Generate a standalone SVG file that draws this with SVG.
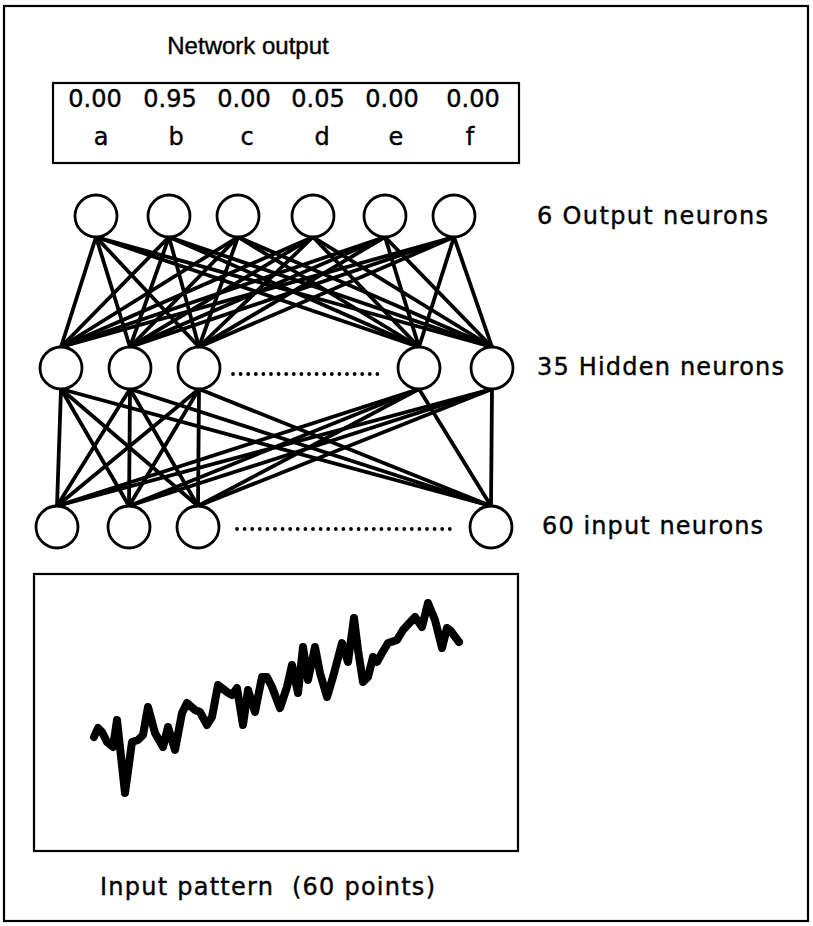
<svg xmlns="http://www.w3.org/2000/svg" width="813" height="926" viewBox="0 0 813 926">
<style>
text{font-family:"DejaVu Sans","Liberation Sans",sans-serif;fill:#000;stroke:#000;stroke-width:0.4;font-size:24px}
.n{fill:#fff;stroke:#000;stroke-width:2.8}
.c line{stroke:#000;stroke-width:3.8;stroke-linecap:round}
.dots{stroke:#000;stroke-width:3.8;stroke-linecap:round;stroke-dasharray:0 7.6;fill:none}
.box{fill:none;stroke:#000;stroke-width:2.2}
</style>
<rect x="0" y="0" width="813" height="926" fill="#fff"/>
<rect id="frame" class="box" x="4" y="6" width="804" height="915" stroke-width="1.6"/>
<text id="title" x="248" y="54" font-size="22" text-anchor="middle" style="font-family:'Liberation Sans',Arial,sans-serif">Network output</text>
<g id="output-box">
<rect class="box" x="53" y="83" width="466" height="80"/>
<g text-anchor="middle" font-size="20">
<text x="95" y="107">0.00</text>
<text x="170" y="107">0.95</text>
<text x="244" y="107">0.00</text>
<text x="318" y="107">0.05</text>
<text x="392" y="107">0.00</text>
<text x="473" y="107">0.00</text>
</g>
<g text-anchor="middle" font-size="22">
<text x="101" y="145">a</text>
<text x="176" y="145">b</text>
<text x="247" y="145">c</text>
<text x="322" y="145">d</text>
<text x="396" y="145">e</text>
<text x="470" y="145">f</text>
</g>
</g>
<g id="connectors" class="c">
<line x1="96" y1="237" x2="61" y2="347"/><line x1="96" y1="237" x2="130" y2="347"/><line x1="96" y1="237" x2="199" y2="347"/><line x1="96" y1="237" x2="419" y2="347"/><line x1="96" y1="237" x2="492" y2="347"/>
<line x1="169" y1="237" x2="61" y2="347"/><line x1="169" y1="237" x2="130" y2="347"/><line x1="169" y1="237" x2="199" y2="347"/><line x1="169" y1="237" x2="419" y2="347"/><line x1="169" y1="237" x2="492" y2="347"/>
<line x1="238" y1="237" x2="61" y2="347"/><line x1="238" y1="237" x2="130" y2="347"/><line x1="238" y1="237" x2="199" y2="347"/><line x1="238" y1="237" x2="419" y2="347"/><line x1="238" y1="237" x2="492" y2="347"/>
<line x1="313" y1="237" x2="61" y2="347"/><line x1="313" y1="237" x2="130" y2="347"/><line x1="313" y1="237" x2="199" y2="347"/><line x1="313" y1="237" x2="419" y2="347"/><line x1="313" y1="237" x2="492" y2="347"/>
<line x1="385" y1="237" x2="61" y2="347"/><line x1="385" y1="237" x2="130" y2="347"/><line x1="385" y1="237" x2="199" y2="347"/><line x1="385" y1="237" x2="419" y2="347"/><line x1="385" y1="237" x2="492" y2="347"/>
<line x1="454" y1="237" x2="61" y2="347"/><line x1="454" y1="237" x2="130" y2="347"/><line x1="454" y1="237" x2="199" y2="347"/><line x1="454" y1="237" x2="419" y2="347"/><line x1="454" y1="237" x2="492" y2="347"/>
<line x1="61" y1="389" x2="57" y2="506"/><line x1="61" y1="389" x2="129" y2="506"/><line x1="61" y1="389" x2="198" y2="506"/><line x1="61" y1="389" x2="491" y2="506"/>
<line x1="130" y1="389" x2="57" y2="506"/><line x1="130" y1="389" x2="129" y2="506"/><line x1="130" y1="389" x2="198" y2="506"/><line x1="130" y1="389" x2="491" y2="506"/>
<line x1="199" y1="389" x2="57" y2="506"/><line x1="199" y1="389" x2="129" y2="506"/><line x1="199" y1="389" x2="198" y2="506"/><line x1="199" y1="389" x2="491" y2="506"/>
<line x1="419" y1="389" x2="57" y2="506"/><line x1="419" y1="389" x2="129" y2="506"/><line x1="419" y1="389" x2="198" y2="506"/><line x1="419" y1="389" x2="491" y2="506"/>
<line x1="492" y1="389" x2="57" y2="506"/><line x1="492" y1="389" x2="129" y2="506"/><line x1="492" y1="389" x2="198" y2="506"/><line x1="492" y1="389" x2="491" y2="506"/>
</g>
<g id="output-neurons">
<circle class="n" cx="96" cy="216" r="21"/>
<circle class="n" cx="169" cy="216" r="21"/>
<circle class="n" cx="238" cy="216" r="21"/>
<circle class="n" cx="313" cy="216" r="21"/>
<circle class="n" cx="385" cy="216" r="21"/>
<circle class="n" cx="454" cy="216" r="21"/>
<text x="537" y="224" textLength="231" lengthAdjust="spacing">6 Output neurons</text>
</g>
<g id="hidden-neurons">
<circle class="n" cx="61" cy="368" r="21"/>
<circle class="n" cx="130" cy="368" r="21"/>
<circle class="n" cx="199" cy="368" r="21"/>
<circle class="n" cx="419" cy="368" r="21"/>
<circle class="n" cx="492" cy="368" r="21"/>
<line class="dots" x1="233" y1="374" x2="378" y2="374"/>
<text x="537" y="375" textLength="247" lengthAdjust="spacing">35 Hidden neurons</text>
</g>
<g id="input-neurons">
<circle class="n" cx="57" cy="527" r="21"/>
<circle class="n" cx="129" cy="527" r="21"/>
<circle class="n" cx="198" cy="527" r="21"/>
<circle class="n" cx="491" cy="527" r="21"/>
<line class="dots" x1="237" y1="529" x2="450" y2="529"/>
<text x="542" y="534" textLength="221" lengthAdjust="spacing">60 input neurons</text>
</g>
<g id="input-pattern">
<rect class="box" x="34" y="574" width="484" height="277"/>
<polyline fill="none" stroke="#000" stroke-width="8" stroke-linejoin="round" stroke-linecap="round" points="94,737 98,728 102,732 107,742 113,747 117,720 125,793 132,742 138,740 143,735 148,707 155,733 163,747 168,727 175,750 182,713 187,703 195,710 200,712 207,725 212,717 218,685 227,692 232,695 237,688 243,725 248,690 255,712 262,677 267,677 272,687 280,708 287,687 292,665 298,693 303,647 308,680 315,647 320,673 327,697 333,677 342,643 348,662 354,618 358,650 363,682 368,677 373,657 377,662 382,653 388,643 397,640 403,630 415,617 422,627 428,603 435,620 442,648 447,628 450,630 459,642"/>
<text x="100" y="895" textLength="335" lengthAdjust="spacing" xml:space="preserve">Input pattern  (60 points)</text>
</g>
</svg>
